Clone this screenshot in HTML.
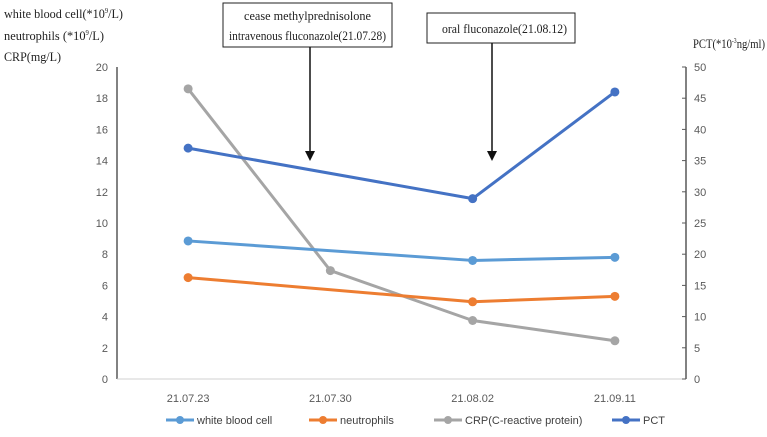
<!DOCTYPE html>
<html><head><meta charset="utf-8"><style>
body{margin:0;background:#fff;width:767px;height:432px;overflow:hidden}
svg text{font-family:"Liberation Sans",sans-serif}
.serif{font-family:"Liberation Serif",serif !important;fill:#222}
</style></head><body>
<svg id="chart" width="767" height="432" xmlns="http://www.w3.org/2000/svg">
<g>
<text class="serif" x="4" y="18" font-size="13" textLength="119" lengthAdjust="spacingAndGlyphs">white blood cell(*10<tspan font-size="7" dy="-5">9</tspan><tspan dy="5">/L)</tspan></text>
<text class="serif" x="4" y="40" font-size="13" textLength="100" lengthAdjust="spacingAndGlyphs">neutrophils (*10<tspan font-size="7" dy="-5">9</tspan><tspan dy="5">/L)</tspan></text>
<text class="serif" x="4" y="61" font-size="13" textLength="57" lengthAdjust="spacingAndGlyphs">CRP(mg/L)</text>
</g>
<text class="serif" x="693" y="48" font-size="13" textLength="72" lengthAdjust="spacingAndGlyphs">PCT(*10<tspan font-size="7" dy="-5">-3</tspan><tspan dy="5">ng/ml)</tspan></text>
<g>
<rect x="223" y="3" width="169" height="44" fill="#fff" stroke="#222" stroke-width="1"/>
<text class="serif" x="244" y="20" font-size="13" textLength="127" lengthAdjust="spacingAndGlyphs">cease methylprednisolone</text>
<text class="serif" x="229" y="40" font-size="13" textLength="157" lengthAdjust="spacingAndGlyphs">intravenous fluconazole(21.07.28)</text>
<line x1="310" y1="47" x2="310" y2="152" stroke="#111" stroke-width="1.5"/>
<polygon points="305,151 315,151 310,161" fill="#111"/>
</g>
<g>
<rect x="427" y="13" width="148" height="30" fill="#fff" stroke="#222" stroke-width="1"/>
<text class="serif" x="442" y="33" font-size="13" textLength="125" lengthAdjust="spacingAndGlyphs">oral fluconazole(21.08.12)</text>
<line x1="492" y1="43" x2="492" y2="152" stroke="#111" stroke-width="1.5"/>
<polygon points="487,151 497,151 492,161" fill="#111"/>
</g>
<g id="axes"></g>
<g id="series"></g>
<g id="legend"></g>
</svg>
<script>
const categories=["21.07.23","21.07.30","21.08.02","21.09.11"];
const wbc=[8.85,null,7.6,7.8];
const neutrophils=[6.5,null,4.95,5.3];
const crp=[18.6,6.95,3.75,2.45];
const pct=[37,null,28.9,46];
const leftTicks=[0,2,4,6,8,10,12,14,16,18,20];
const rightTicks=[0,5,10,15,20,25,30,35,40,45,50];
const NS="http://www.w3.org/2000/svg";
const L=117,R=686,T=67,B=379;
const step=(R-L)/categories.length;
const x=i=>L+step*(i+0.5);
const yL=v=>B-(v/20)*(B-T);
const yR=v=>B-(v/50)*(B-T);
function mk(tag,attrs,parent){const e=document.createElementNS(NS,tag);for(const k in attrs)e.setAttribute(k,attrs[k]);parent.appendChild(e);return e;}
const axes=document.getElementById('axes');
let a=mk('line',{x1:L,y1:T,x2:L,y2:B,stroke:'#595959','stroke-width':1.5},axes);


a=mk('line',{x1:L,y1:B,x2:R,y2:B,stroke:'#d0d0d0','stroke-width':1},axes);


a=mk('line',{x1:R,y1:T,x2:R,y2:B,stroke:'#595959','stroke-width':1.5},axes);


leftTicks.forEach(v=>{const t=mk('text',{x:L-9,y:yL(v)+4,'font-size':11,fill:'#595959','text-anchor':'end'},axes);t.textContent=v;

});
rightTicks.forEach(v=>{mk('line',{x1:R-4,y1:yR(v),x2:R,y2:yR(v),stroke:'#595959'},axes);const t=mk('text',{x:R+8,y:yR(v)+4,'font-size':11,fill:'#595959'},axes);t.textContent=v;

});
categories.forEach((c,i)=>{const t=mk('text',{x:x(i),y:B+23,'font-size':11,fill:'#595959','text-anchor':'middle'},axes);t.textContent=c;

});
const ser=document.getElementById('series');
function draw(vals,color,yf,name){
  const g=mk('g',{},ser);
  
  
  const pts=[];vals.forEach((v,i)=>{if(v!==null)pts.push([x(i),yf(v)]);});
  mk('polyline',{points:pts.map(p=>p.join(',')).join(' '),fill:'none',stroke:color,'stroke-width':3,'stroke-linejoin':'round'},g);
  pts.forEach(p=>{const c=mk('circle',{cx:p[0],cy:p[1],r:4.5,fill:color},g);
  
  });
}
draw(crp,'#a5a5a5',yL,'crp');
draw(wbc,'#5b9bd5',yL,'wbc');
draw(neutrophils,'#ed7d31',yL,'neutrophils');
draw(pct,'#4472c4',yR,'pct');
const lg=document.getElementById('legend');
const items=[["white blood cell",'#5b9bd5',166],["neutrophils",'#ed7d31',309],["CRP(C-reactive protein)",'#a5a5a5',434],["PCT",'#4472c4',612]];
items.forEach(it=>{const g=mk('g',{},lg);


mk('line',{x1:it[2],y1:420,x2:it[2]+28,y2:420,stroke:it[1],'stroke-width':3},g);
mk('circle',{cx:it[2]+14,cy:420,r:4,fill:it[1]},g);
const t=mk('text',{x:it[2]+31,y:424,'font-size':11,fill:'#404040'},g);t.textContent=it[0];});
</script>
</body></html>
